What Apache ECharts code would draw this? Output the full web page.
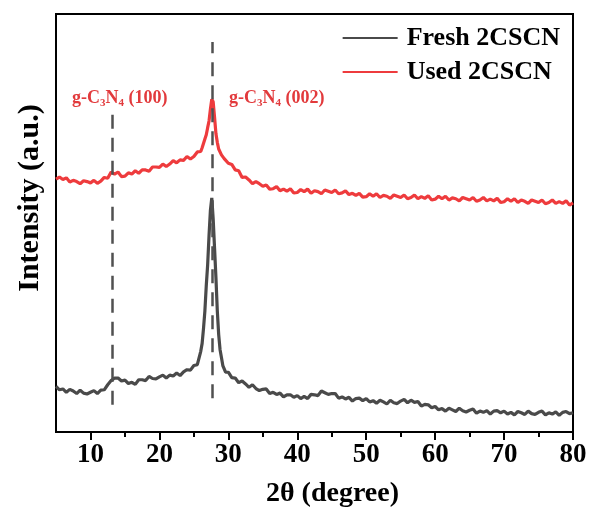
<!DOCTYPE html>
<html>
<head>
<meta charset="utf-8">
<script src="https://cdn.jsdelivr.net/npm/echarts@6/dist/echarts.min.js"></script>
<style>
	html, body { margin: 0; padding: 0; background: #fff; }
	#chart { width: 595px; height: 523px; }
</style>
</head>
<body>
<div id="chart"></div>
<script>
// 2theta grid (degree)
var angles = [
	5,5.5,6,6.5,7,7.5,8,8.5,9,9.5,10,10.5,11,11.5,12,12.5,13,13.5,14,14.5,
	15,15.5,16,16.5,17,17.5,18,18.5,19,19.5,20,20.5,21,21.5,22,22.5,23,23.5,24,24.5,25,25.5,
	26,26.2,26.4,26.6,26.8,27,27.2,27.4,27.6,27.8,28,28.2,28.4,28.6,28.8,29,29.2,29.4,29.6,
	30,30.5,31,31.5,32,32.5,33,33.5,34,34.5,35,35.5,36,36.5,37,37.5,38,38.5,39,39.5,
	40,40.5,41,41.5,42,42.5,43,43.5,44,44.5,45,45.5,46,46.5,47,47.5,48,48.5,49,49.5,
	50,50.5,51,51.5,52,52.5,53,53.5,54,54.5,55,55.5,56,56.5,57,57.5,58,58.5,59,59.5,
	60,60.5,61,61.5,62,62.5,63,63.5,64,64.5,65,65.5,66,66.5,67,67.5,68,68.5,69,69.5,
	70,70.5,71,71.5,72,72.5,73,73.5,74,74.5,75,75.5,76,76.5,77,77.5,78,78.5,79,79.5,80
]
// Fresh 2CSCN (a.u.)
var fresh = [
	10.9,10.1,10.3,9.5,10.2,9.8,9.2,10.0,9.3,9.1,9.5,9.9,9.2,10.0,10.1,11.3,12.3,12.9,12.9,12.2,
	12.4,11.6,11.9,11.4,12.5,12.5,12.3,13.3,12.8,12.7,13.2,13.6,12.9,13.6,13.4,14.1,13.5,14.4,14.9,14.8,15.9,16.1,
	19.3,21.2,24.8,29,35,40,47,53,56,51,44,37,29,23.3,19.7,17.8,15.9,15.5,14.3,
	14.3,13.0,12.9,11.8,12.2,11.5,10.7,11.3,10.4,9.9,10.2,10.3,9.2,9.5,9.0,9.3,8.4,8.9,8.9,8.3,
	8.7,8.0,8.5,8.0,9.0,8.9,8.7,9.8,9.4,9.0,9.2,9.2,8.1,8.4,7.9,8.3,7.4,8.0,8.1,7.5,
	8.0,7.2,7.5,6.9,7.6,7.2,6.7,7.6,7.0,6.8,7.4,7.8,7.0,7.6,7.1,7.3,6.2,6.6,6.5,5.8,
	6.1,5.3,5.6,5.0,5.7,5.3,4.9,5.7,5.1,4.8,5.2,5.5,4.5,5.0,4.7,5.1,4.3,5.0,5.1,4.6,
	5.0,4.3,4.7,4.1,4.9,4.6,4.2,5.0,4.4,4.2,4.7,5.0,4.1,4.6,4.3,4.8,4.0,4.7,4.9,4.4,4.6
]
// Used 2CSCN (a.u.)
var used = [
	60.5,61.0,60.4,60.8,59.8,60.2,59.9,59.4,60.1,59.9,59.6,60.2,59.5,60.0,60.9,60.7,62.2,61.7,62.2,61.1,
	61.2,62.0,61.7,62.5,61.9,62.7,62.7,62.4,63.4,63.4,63.3,64.1,63.5,64.1,64.9,64.4,65.1,65.0,65.9,65.3,65.9,67.0,
	67.1,68.0,68.4,70.1,71.1,72.8,74.4,77.2,79.6,79.0,75.3,71.4,69.3,67.7,67.3,66.3,66.2,65.4,65.4,
	64.3,64.0,62.7,62.5,60.9,61.0,60.3,59.4,59.9,59.4,58.8,59.1,58.1,58.2,58.7,57.7,58.1,57.6,58.2,57.2,
	57.3,58.0,57.5,58.1,57.1,57.7,57.5,57.0,57.9,57.6,57.3,57.9,57.0,57.2,57.7,56.8,57.1,56.6,57.1,56.2,
	56.3,57.0,56.4,57.0,56.1,56.6,56.4,55.9,56.7,56.4,56.1,56.7,55.8,56.1,56.7,55.8,56.3,55.9,56.5,55.5,
	55.7,56.4,55.8,56.4,55.5,56.0,55.8,55.3,56.1,55.8,55.5,56.1,55.2,55.5,56.1,55.3,55.7,55.3,55.9,54.9,
	55.1,55.8,55.2,55.8,54.9,55.5,55.2,54.7,55.5,55.2,54.9,55.5,54.6,54.9,55.5,54.7,55.1,54.7,55.3,54.3,54.8
]
// reference peak positions and dashed line spans [x, yFrom, yTo]
var peakLines = [[13.1, 6.5, 77], [27.6, 8.1, 93.3]]
var majorTicks = [10, 20, 30, 40, 50, 60, 70, 80]
var minorTicks = [15, 25, 35, 45, 55, 65, 75]

var FONT = '"Liberation Serif", "Times New Roman", serif'
var GRAY = '#4a4a4a'
var RED = '#ee3b3d'

function zip(xs, ys){
	var out = []
	for (var i = 0; i < xs.length; i++) out.push([xs[i], ys[i]])
	return out
}

var markLines = peakLines.map(function(p){
	return [{coord: [p[0], p[1]]}, {coord: [p[0], p[2]]}]
})

function subLabel(idx){
	return '{a|g-C}{s|3}{a|N}{s|4}{a| (' + idx + ')}'
}
var richStyle = {
	a: {fontFamily: FONT, fontWeight: 'bold', fontSize: 18, fill: '#e23a3c', lineHeight: 22},
	s: {fontFamily: FONT, fontWeight: 'bold', fontSize: 11, fill: '#e23a3c', lineHeight: 11, verticalAlign: 'bottom'}
}

var chart = echarts.init(document.getElementById('chart'))
var option = {
	animation: false,
	backgroundColor: '#fff',
	grid: {
		left: 56, right: 22, top: 14, bottom: 91,
		show: true, borderColor: '#000', borderWidth: 2
	},
	legend: {
		orient: 'vertical',
		right: 30, top: 20,
		itemWidth: 55, itemHeight: 2, itemGap: 8,
		icon: 'rect',
		textStyle: {fontFamily: FONT, fontWeight: 'bold', fontSize: 26, color: '#000', padding: [0, 0, 0, 4]},
		data: ['Fresh 2CSCN', 'Used 2CSCN']
	},
	xAxis: [
		{
			type: 'value', min: 5, max: 80, interval: 5,
			name: '2θ (degree)', nameLocation: 'middle', nameGap: 48,
			nameTextStyle: {fontFamily: FONT, fontWeight: 'bold', fontSize: 28, color: '#000', padding: [0, 0, 0, 36]},
			axisLine: {show: true, lineStyle: {color: '#000', width: 2}},
			axisTick: {show: true, inside: false, length: 8, customValues: majorTicks, lineStyle: {color: '#000', width: 2}},
			axisLabel: {customValues: majorTicks, margin: 10, fontFamily: FONT, fontWeight: 'bold', fontSize: 27, color: '#000'},
			splitLine: {show: false}
		},
		{
			type: 'value', min: 5, max: 80, interval: 5, position: 'bottom',
			axisLine: {show: false},
			axisTick: {show: true, inside: false, length: 5, customValues: minorTicks, lineStyle: {color: '#000', width: 2}},
			axisLabel: {show: false},
			splitLine: {show: false}
		}
	],
	yAxis: {
		type: 'value', min: 0, max: 100,
		axisLine: {show: false}, axisTick: {show: false},
		axisLabel: {show: false}, splitLine: {show: false}
	},
	graphic: [
		{
			type: 'text', x: 30, y: 198, rotation: Math.PI / 2,
			style: {text: 'Intensity (a.u.)', align: 'center', verticalAlign: 'middle',
				font: 'bold 30px ' + FONT, fill: '#000'}
		},
		{
			type: 'text', x: 72, y: 98,
			style: {text: subLabel('100'), rich: richStyle, verticalAlign: 'middle'}
		},
		{
			type: 'text', x: 229, y: 98,
			style: {text: subLabel('002'), rich: richStyle, verticalAlign: 'middle'}
		}
	],
	series: [
		{
			name: 'Fresh 2CSCN', type: 'line', showSymbol: false, z: 3,
			data: zip(angles, fresh),
			lineStyle: {color: GRAY, width: 3.2}, itemStyle: {color: GRAY},
			markLine: {
				silent: true, symbol: 'none', label: {show: false},
				lineStyle: {color: '#505050', width: 2.5, type: [14, 9]},
				data: markLines
			}
		},
		{
			name: 'Used 2CSCN', type: 'line', showSymbol: false, z: 3,
			data: zip(angles, used),
			lineStyle: {color: RED, width: 3.2}, itemStyle: {color: RED}
		}
	]
}
chart.setOption(option)
</script>
</body>
</html>
